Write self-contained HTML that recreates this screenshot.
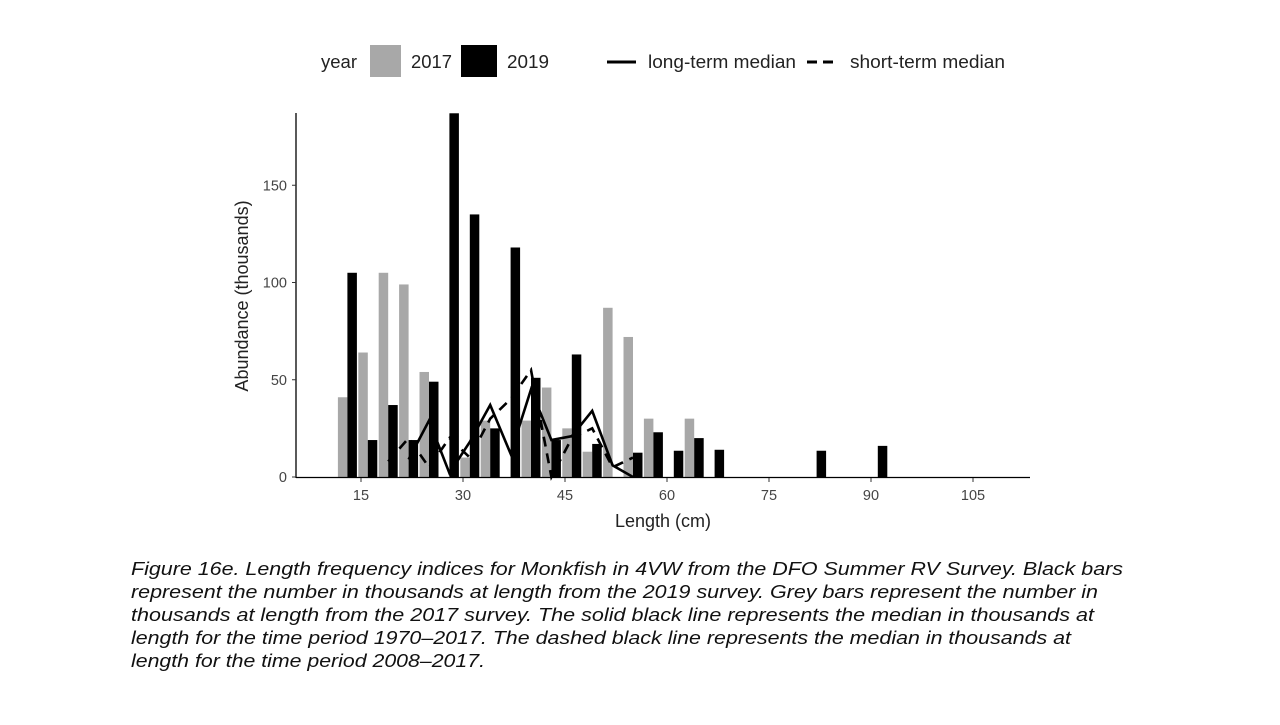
<!DOCTYPE html>
<html><head><meta charset="utf-8"><style>
body{margin:0;background:#fff;}
svg text{font-family:"Liberation Sans",sans-serif;}
</style></head><body>
<svg width="1280" height="720" viewBox="0 0 1280 720">
<g id="legend" font-size="18" fill="#222">
  <text x="321" y="68" textLength="36" lengthAdjust="spacingAndGlyphs">year</text>
  <rect x="370" y="45" width="31" height="32" fill="#a8a8a8"/>
  <text x="411" y="68" textLength="41" lengthAdjust="spacingAndGlyphs">2017</text>
  <rect x="461" y="45" width="36" height="32" fill="#000"/>
  <text x="507" y="68" textLength="42" lengthAdjust="spacingAndGlyphs">2019</text>
  <line x1="607" y1="62" x2="636" y2="62" stroke="#000" stroke-width="3"/>
  <text x="648" y="68" textLength="148" lengthAdjust="spacingAndGlyphs">long-term median</text>
  <line x1="807" y1="62" x2="836" y2="62" stroke="#000" stroke-width="3" stroke-dasharray="10,6"/>
  <text x="850" y="68" textLength="155" lengthAdjust="spacingAndGlyphs">short-term median</text>
</g>
<g id="plot"></g>
<text x="0" y="0" transform="translate(248,296) rotate(-90)" text-anchor="middle" font-size="18" fill="#222">Abundance (thousands)</text>
<text x="663" y="527" text-anchor="middle" font-size="18" fill="#222">Length (cm)</text>
<g font-size="18.5" font-style="italic" fill="#111">
<text x="131" y="575" textLength="992" lengthAdjust="spacingAndGlyphs">Figure 16e. Length frequency indices for Monkfish in 4VW from the DFO Summer RV Survey. Black bars</text>
<text x="131" y="598" textLength="967" lengthAdjust="spacingAndGlyphs">represent the number in thousands at length from the 2019 survey. Grey bars represent the number in</text>
<text x="131" y="621" textLength="963" lengthAdjust="spacingAndGlyphs">thousands at length from the 2017 survey. The solid black line represents the median in thousands at</text>
<text x="131" y="644" textLength="940" lengthAdjust="spacingAndGlyphs">length for the time period 1970–2017. The dashed black line represents the median in thousands at</text>
<text x="131" y="667" textLength="354" lengthAdjust="spacingAndGlyphs">length for the time period 2008–2017.</text>
</g>
</svg>
<script>
const bins2017 = [13,16,19,22,25,31,34,40,43,46,49,52,55,58,64];
const vals2017 = [41,64,105,99,54,10,29,29,46,25,13,87,72,30,30];
const bins2019 = [13,16,19,22,25,28,31,34,37,40,43,46,49,55,58,61,64,67,82,91];
const vals2019 = [105,19,37,19,49,187,135,25,118,51,19,63,17,12.5,23,13.5,20,14,13.5,16];
const longBins = [22,25,28,31,34,37,40,43,46,49,52,55];
const longVals = [9,29,2,18,37,12,45,19,21,34,6,0];
const shortBins = [19,22,25,28,31,34,37,40,43,46,49,52,55];
const shortVals = [8,20,5,20,10,30,40,55,0,20,25,5,10];
const yTicks = [0,50,100,150];
const xTicks = [15,30,45,60,75,90,105];

const NS='http://www.w3.org/2000/svg';
const g=document.getElementById('plot');
const xs=v=>361+(v-15)*6.8;
const ys=v=>477-v*1.945;
const bw=9.5;
function mk(t,a){const e=document.createElementNS(NS,t);for(const k in a)e.setAttribute(k,a[k]);g.appendChild(e);return e;}
bins2017.forEach((b,i)=>{const v=vals2017[i];
  const r=mk('rect',{x:xs(b)-bw,y:ys(v),width:bw,height:477-ys(v),fill:'#a8a8a8'});
  
  });
bins2019.forEach((b,i)=>{const v=vals2019[i];
  const r=mk('rect',{x:xs(b),y:Math.max(ys(v),113),width:bw,height:477-Math.max(ys(v),113),fill:'#000'});
  
  });
const lp=longBins.map((b,i)=>xs(b)+','+ys(longVals[i])).join(' ');
const l1=mk('polyline',{points:lp,fill:'none',stroke:'#000','stroke-width':2.6,'stroke-linejoin':'miter'});


const sp=shortBins.map((b,i)=>xs(b)+','+ys(shortVals[i])).join(' ');
const l2=mk('polyline',{points:sp,fill:'none',stroke:'#000','stroke-width':2.6,'stroke-dasharray':'10,7'});


const ya=mk('line',{x1:296,y1:113,x2:296,y2:478,stroke:'#000','stroke-width':1.3});


const xa=mk('line',{x1:296,y1:477.5,x2:1030,y2:477.5,stroke:'#000','stroke-width':1.3});


yTicks.forEach(t=>{
  mk('line',{x1:292,y1:ys(t),x2:296,y2:ys(t),stroke:'#333'});
  const tx=mk('text',{x:287,y:ys(t)+5,'text-anchor':'end','font-size':14.5,fill:'#444'});
  tx.textContent=t;
  
  });
xTicks.forEach(t=>{
  mk('line',{x1:xs(t),y1:478,x2:xs(t),y2:482,stroke:'#333'});
  const tx=mk('text',{x:xs(t),y:500,'text-anchor':'middle','font-size':14.5,fill:'#444'});
  tx.textContent=t;
  
  });
</script>
</body></html>
